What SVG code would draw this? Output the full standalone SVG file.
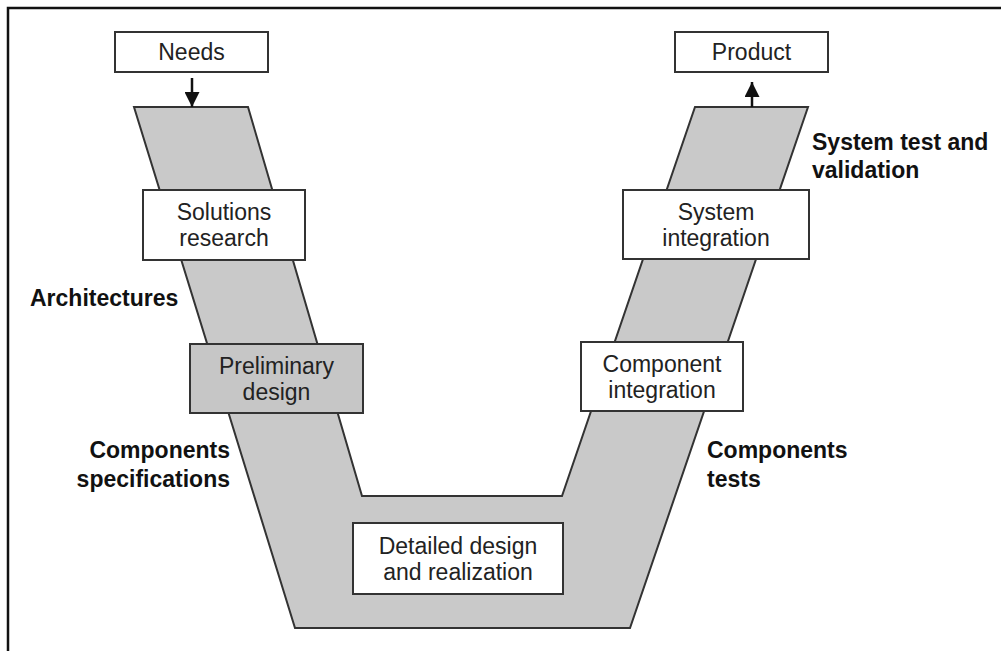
<svg xmlns="http://www.w3.org/2000/svg" width="1001" height="651" viewBox="0 0 1001 651">
  <style>
    .box { fill: #ffffff; stroke: #333333; stroke-width: 2; }
    .gbox { fill: #c6c6c6; stroke: #333333; stroke-width: 2; }
    .band { fill: #c9c9c9; stroke: #333333; stroke-width: 2; stroke-linejoin: miter; }
    .t { font-family: "Liberation Sans", Arial, sans-serif; font-size: 23px; fill: #222222; text-anchor: middle; }
    .lbl { font-family: "Liberation Sans", Arial, sans-serif; font-size: 23px; font-weight: bold; fill: #111111; }
    .conn { stroke: #111111; stroke-width: 2.5; fill: none; }
  </style>
  <defs>
    <marker id="ah" viewBox="0 0 10 10" refX="10" refY="5" markerUnits="userSpaceOnUse" markerWidth="15" markerHeight="15" orient="auto">
      <path d="M0,0 L10,5 L0,10 z" fill="#111111"/>
    </marker>
  </defs>
  <rect width="1001" height="651" fill="#ffffff"/>
  <path d="M8,651 V8 H1001" fill="none" stroke="#111111" stroke-width="2.5"/>

  <g id="v-band">
    <polygon class="band" points="134,107 248,107 362,496 562,496 695,107 808,107 630,628 295,628"/>
  </g>

  <g id="connectors">
    <line class="conn" x1="192" y1="78" x2="192" y2="107" marker-end="url(#ah)"/>
    <line class="conn" x1="752" y1="107" x2="752" y2="82" marker-end="url(#ah)"/>
  </g>

  <g id="needs">
    <rect class="box" x="115" y="32" width="153" height="40"/>
    <text class="t" x="191.5" y="60">Needs</text>
  </g>
  <g id="product">
    <rect class="box" x="675" y="32" width="153" height="40"/>
    <text class="t" x="751.5" y="60">Product</text>
  </g>
  <g id="solutions-research">
    <rect class="box" x="143" y="190" width="162" height="70"/>
    <text class="t" x="224" y="220">Solutions</text>
    <text class="t" x="224" y="246">research</text>
  </g>
  <g id="preliminary-design">
    <rect class="gbox" x="190" y="344" width="173" height="69"/>
    <text class="t" x="276.5" y="373.5">Preliminary</text>
    <text class="t" x="276.5" y="399.5">design</text>
  </g>
  <g id="detailed-design">
    <rect class="box" x="353" y="523" width="210" height="71"/>
    <text class="t" x="458" y="553.5">Detailed design</text>
    <text class="t" x="458" y="579.5">and realization</text>
  </g>
  <g id="component-integration">
    <rect class="box" x="581" y="342" width="162" height="69"/>
    <text class="t" x="662" y="371.5">Component</text>
    <text class="t" x="662" y="397.5">integration</text>
  </g>
  <g id="system-integration">
    <rect class="box" x="623" y="190" width="186" height="69"/>
    <text class="t" x="716" y="219.5">System</text>
    <text class="t" x="716" y="245.5">integration</text>
  </g>

  <g id="label-architectures">
    <text class="lbl" x="30" y="306">Architectures</text>
  </g>
  <g id="label-components-specifications">
    <text class="lbl" x="230" y="458" text-anchor="end">Components</text>
    <text class="lbl" x="230" y="487" text-anchor="end">specifications</text>
  </g>
  <g id="label-components-tests">
    <text class="lbl" x="707" y="458">Components</text>
    <text class="lbl" x="707" y="487">tests</text>
  </g>
  <g id="label-system-test">
    <text class="lbl" x="812" y="150">System test and</text>
    <text class="lbl" x="812" y="178">validation</text>
  </g>
</svg>
